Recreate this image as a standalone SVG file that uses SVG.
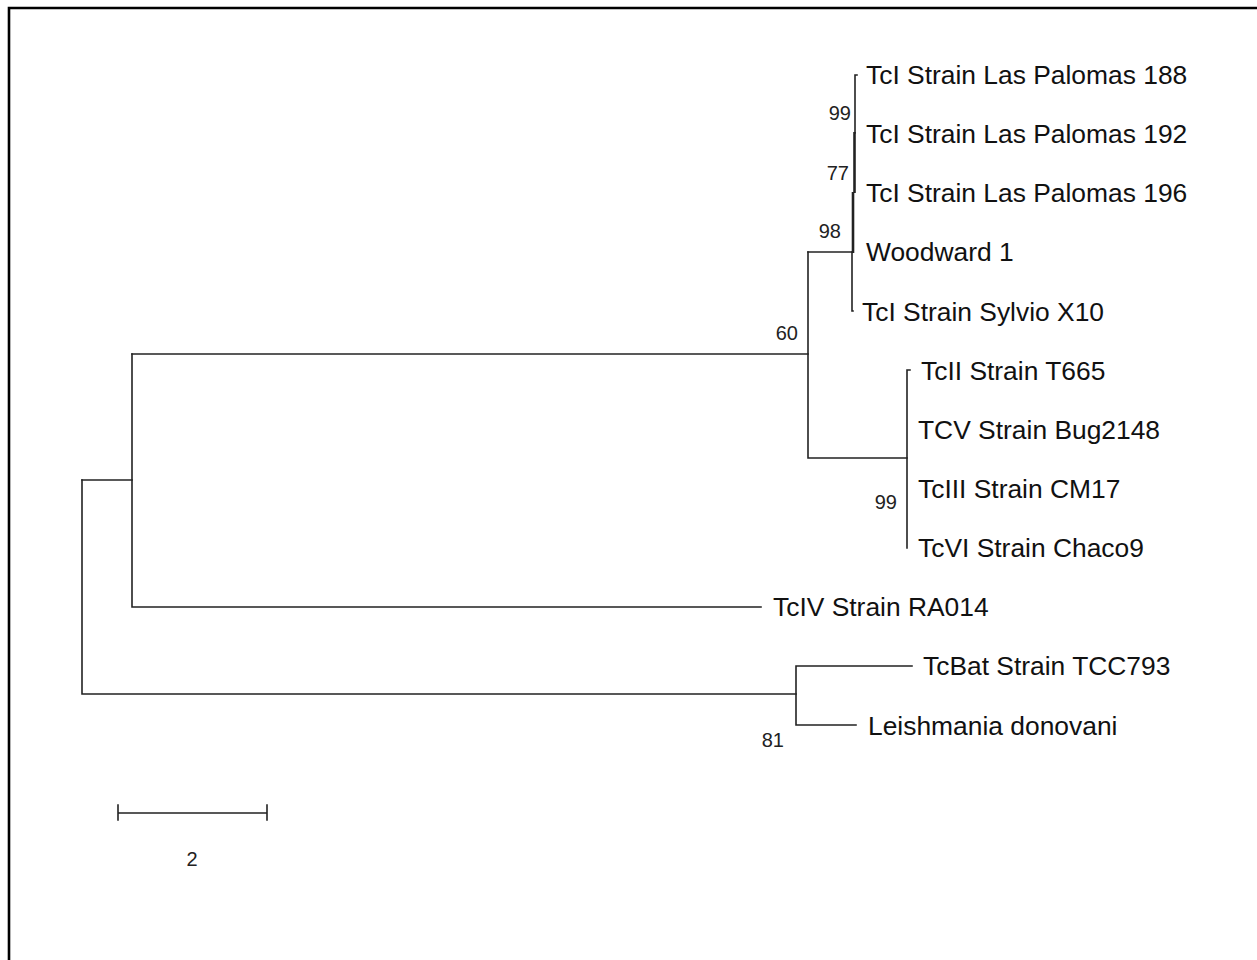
<svg xmlns="http://www.w3.org/2000/svg" width="1257" height="960" viewBox="0 0 1257 960">
<style>
.br{stroke:#222;stroke-width:1.6;fill:none;stroke-linecap:square}
.thick{stroke:#222;stroke-width:2.6;fill:none}
.lf{font-family:"Liberation Sans",Arial,sans-serif;font-size:26.4px;fill:#111}
.bs{font-family:"Liberation Sans",Arial,sans-serif;font-size:20px;fill:#222;text-anchor:end}
</style>
<rect width="1257" height="960" fill="#fff"/>
<g id="frame"><path d="M9 960 V8 H1257" stroke="#000" stroke-width="2.6" fill="none"/></g>
<g id="connectors">
<path class="br" d="M855 75 H857 M855 75 V133"/>
<path class="thick" d="M854.5 132 V193"/>
<path class="thick" d="M853 192 V253"/>
<path class="br" d="M852 252 V311 H853"/>
<path class="br" d="M808 252 H852"/>
<path class="br" d="M808 252 V458 H907"/>
<path class="br" d="M907 370 V548 M907 370 H910"/>
<path class="br" d="M132 354 H808"/>
<path class="br" d="M132 354 V607 H761"/>
<path class="br" d="M82 480 H132"/>
<path class="br" d="M82 480 V694 H796"/>
<path class="br" d="M912 666 H796 V725 H856"/>
<path class="br" d="M118 813 H267 M118 805 V820 M267 805 V820"/>
</g>
<g id="leaves">
<g id="n188"><text class="lf" x="866" y="84">TcI Strain Las Palomas 188</text></g>
<g id="n192"><text class="lf" x="866" y="143">TcI Strain Las Palomas 192</text></g>
<g id="n196"><text class="lf" x="866" y="202">TcI Strain Las Palomas 196</text></g>
<g id="nwood"><text class="lf" x="866" y="261">Woodward 1</text></g>
<g id="nsylvio"><text class="lf" x="862" y="321">TcI Strain Sylvio X10</text></g>
<g id="nt665"><text class="lf" x="921" y="380">TcII Strain T665</text></g>
<g id="nbug"><text class="lf" x="918" y="439">TCV Strain Bug2148</text></g>
<g id="ncm17"><text class="lf" x="918" y="498">TcIII Strain CM17</text></g>
<g id="nchaco"><text class="lf" x="918" y="557">TcVI Strain Chaco9</text></g>
<g id="nra014"><text class="lf" x="773" y="616">TcIV Strain RA014</text></g>
<g id="ntcc"><text class="lf" x="923" y="675">TcBat Strain TCC793</text></g>
<g id="nleish"><text class="lf" x="868" y="735">Leishmania donovani</text></g>
</g>
<g id="bootstrap">
<text class="bs" x="851" y="120">99</text>
<text class="bs" x="849" y="180">77</text>
<text class="bs" x="841" y="238">98</text>
<text class="bs" x="798" y="340">60</text>
<text class="bs" x="897" y="509">99</text>
<text class="bs" x="784" y="747">81</text>
</g>
<g id="scale"><text class="bs" x="192" y="866" style="text-anchor:middle">2</text></g>
</svg>
